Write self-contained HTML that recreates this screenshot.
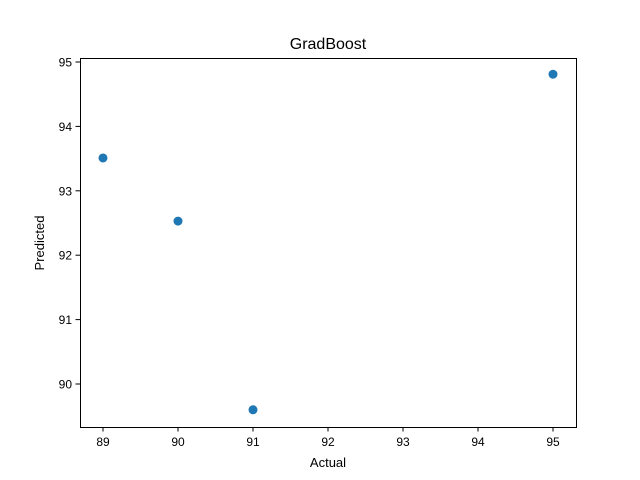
<!DOCTYPE html>
<html><head><meta charset="utf-8"><style>body{margin:0;background:#fff}svg{display:block;font-family:"Liberation Sans","DejaVu Sans",sans-serif}</style></head>
<body>
<svg id="chart" width="640" height="480">
<rect width="640" height="480" fill="#fff"/>
<text x="328" y="49" text-anchor="middle" font-size="16">GradBoost</text>
<g id="ticks"></g>
<g id="points"></g>
<rect x="80.5" y="58.5" width="496" height="369" fill="none" stroke="#000" stroke-width="1"/>
<text x="328" y="467" text-anchor="middle" font-size="13">Actual</text>
<text transform="translate(44,243) rotate(-90)" text-anchor="middle" font-size="13">Predicted</text>
</svg>
<script>
const actual=[89,90,91,95];
const predicted=[93.51,92.53,89.60,94.81];
const xTicks=[89,90,91,92,93,94,95];
const yTicks=[90,91,92,93,94,95];
const NS="http://www.w3.org/2000/svg";
function xs(v){return 103+(v-89)*75;}
function ys(v){return 62+(95-v)*64.4;}
const tg=document.getElementById('ticks'),pg=document.getElementById('points');
function mk(tag,a,p){const e=document.createElementNS(NS,tag);for(const k in a)e.setAttribute(k,a[k]);p.appendChild(e);return e;}
xTicks.forEach(t=>{const x=xs(t);
const l=mk('line',{x1:x,x2:x,y1:427,y2:431.5,stroke:'#000'},tg);


const s=mk('text',{x:x,y:446,'text-anchor':'middle','font-size':'12'},tg);s.textContent=t;

});
yTicks.forEach(t=>{const y=ys(t);
const l=mk('line',{x1:75.5,x2:80,y1:y,y2:y,stroke:'#000'},tg);


const s=mk('text',{x:72,y:y+4.5,'text-anchor':'end','font-size':'12'},tg);s.textContent=t;

});
actual.forEach((a,i)=>{const c=mk('circle',{cx:xs(a),cy:ys(predicted[i]),r:4.5,fill:'#1f77b4'},pg);

});
</script>
</body></html>
